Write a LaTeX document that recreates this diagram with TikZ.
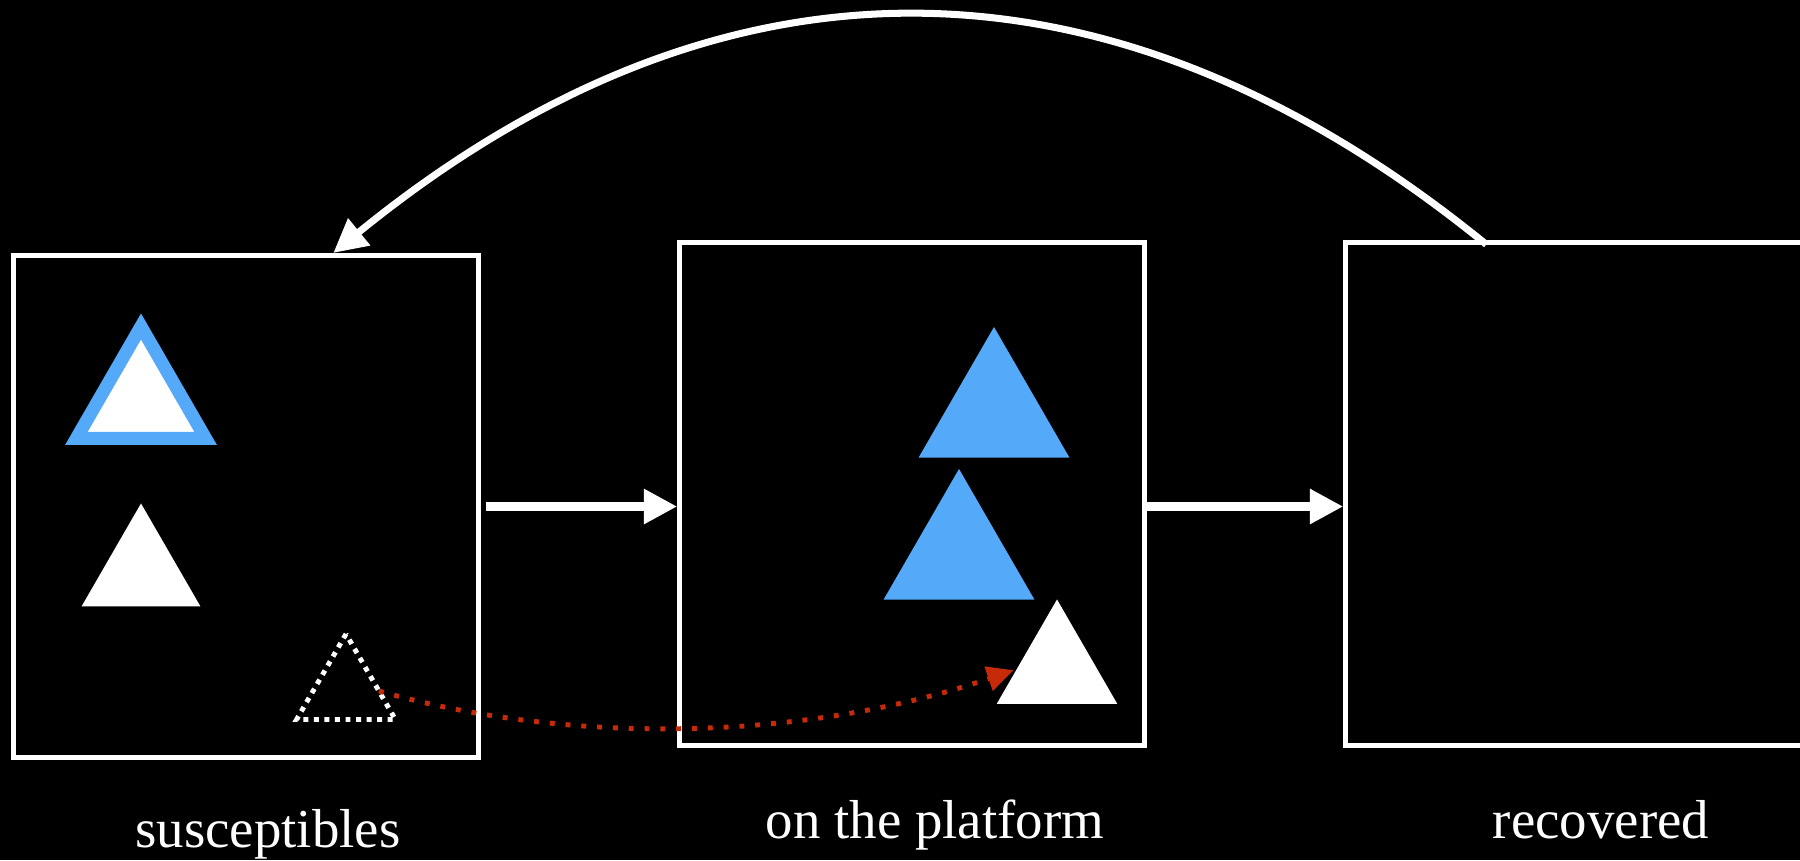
\documentclass[tikz,border=0pt]{standalone}
\usepackage{fontspec}
\setmainfont{Liberation Serif}
\usetikzlibrary{shapes.geometric,arrows.meta}

\definecolor{skyblue}{HTML}{54A9F8}
\definecolor{bugred}{HTML}{C62A08}

\tikzset{
  box/.style={draw=white, line width=1.4pt, minimum width=4.645cm, minimum height=5.02cm, inner sep=0pt},
  tri/.style={regular polygon, regular polygon sides=3, inner sep=0pt, outer sep=0pt},
  flow/.style={white, line width=2.3pt, -{Triangle[length=9.5pt,width=9.5pt]}},
  lbl/.style={text=white, font=\fontsize{15.6}{18}\selectfont, anchor=base}
}

\begin{document}
\begin{tikzpicture}[x=0.01cm, y=-0.01cm]

	% Background
	\fill[black] (0,0) rectangle (1800,860);
	\useasboundingbox (0,0) rectangle (1800,860);

	% Compartments
	\node[box] (sus) at (246,506.5) {};
	\node[box] (plat) at (912,494) {};
	\node[box] (rec) at (1578,494) {};

	% Labels
	\node[lbl] (lsus) at (268,847) {susceptibles};
	\node[lbl] (lplat) at (935,838) {on the platform};
	\node[lbl] (lrec) at (1601,838) {recovered};

	% Triangles
	\node[tri, fill=white, draw=skyblue, line width=3.7pt, minimum size=1.49cm] (s1) at (141,401) {};
	\node[tri, fill=white, minimum size=1.37cm] (s2) at (141,572) {};
	\node[tri, draw=white, line width=1.4pt, dash pattern=on 1.4pt off 1.6pt, minimum size=1.14cm] (dt) at (346,691) {};
	\node[tri, fill=skyblue, minimum size=1.74cm] (p1) at (994,414) {};
	\node[tri, fill=skyblue, minimum size=1.74cm] (p2) at (959,556) {};
	\node[tri, fill=white, minimum size=1.39cm] (w2) at (1057,669) {};

	% Transitions
	\draw[flow] ([xshift=0.05cm]sus.east) -- (plat.west |- sus.east);
	\draw[flow] (plat.east |- sus.east) -- (rec.west |- sus.east);
	\draw[white, line width=2pt, -{Triangle[length=9.5pt,width=9.5pt]}]
		([xshift=1.43cm,yshift=-0.04cm]rec.north west) .. controls (1110,-62) and (720,-62) .. ([xshift=3.22cm]sus.north west);

	% Joining the platform
	\draw[bugred, line width=1.4pt, dash pattern=on 1.4pt off 3.1pt, -{Triangle[length=7.5pt,width=7pt]}, shorten >=1pt]
		(dt.east) .. controls (580,748) and (815,738) .. (w2.west);
\end{tikzpicture}
\end{document}
